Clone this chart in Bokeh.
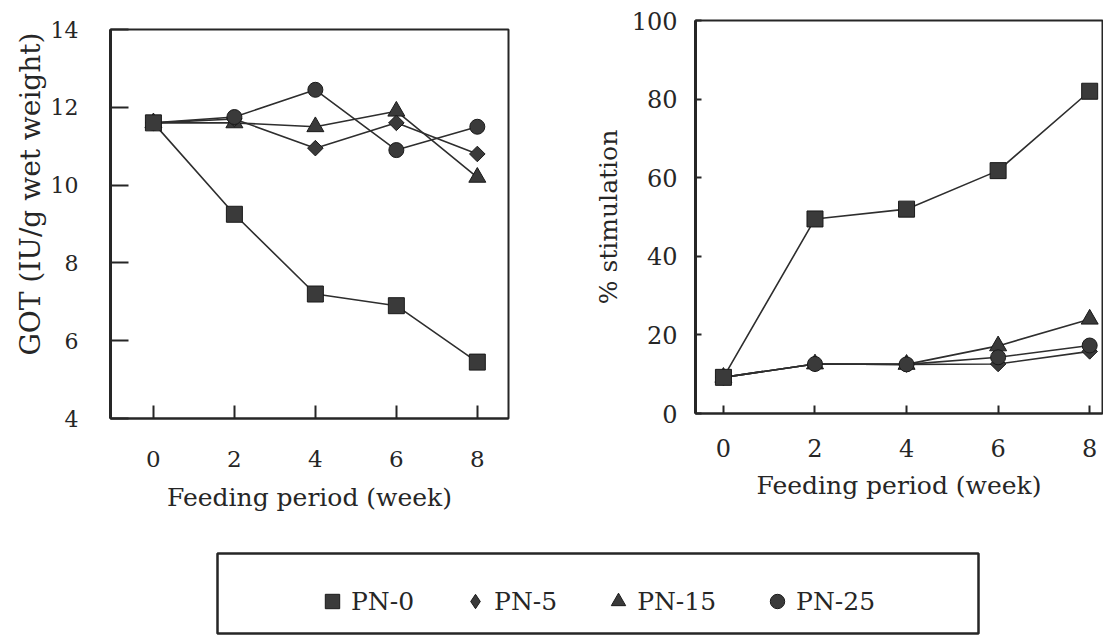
import numpy as np
from bokeh.plotting import figure
from bokeh.models import Range1d, FixedTicker, Legend, LegendItem, Title, Spacer
from bokeh.layouts import row, column
from bokeh.embed import file_html
from bokeh.resources import INLINE

# ---- data ----
weeks = [0, 2, 4, 6, 8]
series_names = ["PN-0", "PN-5", "PN-15", "PN-25"]
got_pn0 = [11.6, 9.25, 7.2, 6.9, 5.45]
got_pn5 = [11.6, 11.7, 10.95, 11.6, 10.8]
got_pn15 = [11.6, 11.6, 11.5, 11.9, 10.2]
got_pn25 = [11.6, 11.75, 12.45, 10.9, 11.5]
stim_pn0 = [9.2, 49.5, 52.0, 61.8, 82.0]
stim_pn5 = [9.2, 12.6, 12.5, 12.6, 15.8]
stim_pn15 = [9.2, 12.6, 12.5, 17.2, 24.0]
stim_pn25 = [9.2, 12.6, 12.5, 14.3, 17.3]
got_ticks = [4, 6, 8, 10, 12, 14]
stim_ticks = [0, 20, 40, 60, 80, 100]
week_ticks = [0, 2, 4, 6, 8]

FONT = "DejaVu Serif"
INK = "#262626"
LINE = "#2e2e2e"
FILL = "#3a3a3a"

marker_style = {
    "PN-0": dict(marker="square", size=16, angle=0.0),
    "PN-5": dict(marker="square", size=11, angle=np.pi / 4),
    "PN-15": dict(marker="triangle", size=17, angle=0.0),
    "PN-25": dict(marker="circle", size=15, angle=0.0),
}
draw_order = ["PN-15", "PN-5", "PN-25", "PN-0"]


def base_fig(width, height, xr, yr, bl, br, bt, bb):
    p = figure(width=width, height=height, x_range=xr, y_range=yr,
               output_backend="svg", toolbar_location=None,
               min_border_left=bl, min_border_right=br,
               min_border_top=bt, min_border_bottom=bb)
    p.grid.visible = False
    p.outline_line_color = INK
    p.outline_line_width = 2
    p.background_fill_color = "white"
    p.border_fill_color = "white"
    for ax in (p.xaxis[0], p.yaxis[0]):
        ax.axis_line_color = INK
        ax.major_tick_line_color = INK
        ax.minor_tick_line_color = None
        ax.major_tick_out = 0
        ax.major_label_text_font = FONT
        ax.major_label_text_color = INK
        ax.axis_label_text_font = FONT
        ax.axis_label_text_color = INK
        ax.axis_label_text_font_style = "normal"
    return p


def draw_series(p, series):
    for name in draw_order:
        p.line(weeks, series[name], line_color=LINE, line_width=1.6)
    for name in draw_order:
        st = marker_style[name]
        p.scatter(weeks, series[name], marker=st["marker"], size=st["size"], angle=st["angle"],
                  fill_color=FILL, line_color="#1a1a1a", line_width=1)


# ---- left plot: GOT ----
p1 = base_fig(568, 519, Range1d(-1.06, 8.77), Range1d(4, 14), 110, 60, 20, 110)
p1.xaxis.ticker = FixedTicker(ticks=week_ticks)
p1.yaxis.ticker = FixedTicker(ticks=got_ticks)
p1.xaxis.major_tick_in = 13
p1.yaxis.major_tick_in = 18
p1.yaxis.axis_line_width = 3
p1.xaxis.axis_line_width = 2
p1.xaxis.major_tick_line_width = 2
p1.yaxis.major_tick_line_width = 2
p1.xaxis.major_label_text_font_size = "23px"
p1.yaxis.major_label_text_font_size = "22px"
p1.xaxis.major_label_standoff = 32
p1.yaxis.major_label_standoff = 32
p1.xaxis.axis_label = "Feeding period (week)"
p1.xaxis.axis_label_text_font_size = "25px"
p1.xaxis.axis_label_standoff = 13
draw_series(p1, {"PN-0": got_pn0, "PN-5": got_pn5, "PN-15": got_pn15, "PN-25": got_pn25})
p1.add_layout(Title(text="GOT (IU/g wet weight)", align="right", offset=3,
                    text_font=FONT, text_font_size="28px", text_font_style="normal",
                    text_color=INK, standoff=2), "left")

# ---- right plot: % stimulation ----
p2 = base_fig(535, 523, Range1d(-0.61, 8.28), Range1d(0, 100), 127, 1, 20, 110)
p2.xaxis.ticker = FixedTicker(ticks=week_ticks)
p2.yaxis.ticker = FixedTicker(ticks=stim_ticks)
p2.xaxis.major_tick_in = 8
p2.yaxis.major_tick_in = 6
p2.yaxis.axis_line_width = 3
p2.xaxis.axis_line_width = 2
p2.xaxis.major_tick_line_width = 2
p2.yaxis.major_tick_line_width = 2
p2.xaxis.major_label_text_font_size = "24px"
p2.yaxis.major_label_text_font_size = "24px"
p2.xaxis.major_label_standoff = 25
p2.yaxis.major_label_standoff = 18
p2.xaxis.axis_label = "Feeding period (week)"
p2.xaxis.axis_label_text_font_size = "25px"
p2.xaxis.axis_label_standoff = 11
p2.yaxis.axis_label = "% stimulation"
p2.yaxis.axis_label_text_font_size = "25px"
p2.yaxis.axis_label_standoff = 6
draw_series(p2, {"PN-0": stim_pn0, "PN-5": stim_pn5, "PN-15": stim_pn15, "PN-25": stim_pn25})

# ---- legend panel ----
p3 = figure(width=1103, height=107, output_backend="svg", toolbar_location=None,
            x_axis_type=None, y_axis_type=None, x_range=Range1d(0, 1), y_range=Range1d(0, 1),
            min_border_left=217, min_border_right=125, min_border_top=25, min_border_bottom=2)
p3.grid.visible = False
p3.outline_line_color = INK
p3.outline_line_width = 2.5
legend_markers = {"PN-0": "square", "PN-5": "diamond", "PN-15": "triangle", "PN-25": "circle"}
items = []
for name in series_names:
    r = p3.scatter([np.nan], [np.nan], marker=legend_markers[name], fill_color=FILL,
                   line_color="#1a1a1a", line_width=1)
    items.append(LegendItem(label=name, renderers=[r]))
leg = Legend(items=items, orientation="horizontal", location=(97, 14),
             glyph_width=36, glyph_height=36, label_standoff=1, spacing=43,
             padding=0, margin=0, border_line_color=None, background_fill_alpha=0,
             label_text_font=FONT, label_text_font_size="25px", label_text_color=INK)
p3.add_layout(leg)

layout = column(row(column(Spacer(width=568, height=9), p1), column(p2)), p3)
open("out.html", "w").write(file_html(layout, INLINE))
